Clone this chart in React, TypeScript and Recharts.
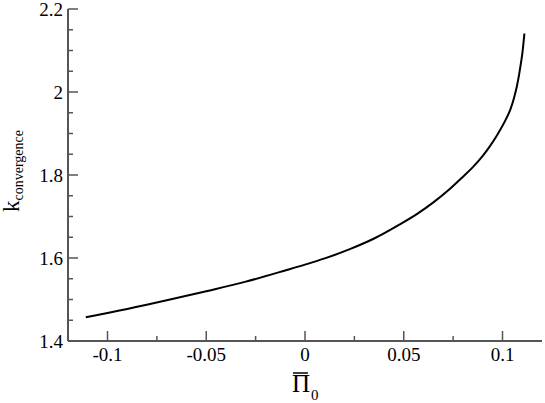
import { LineChart, Line, XAxis, YAxis, Label } from "recharts";

const piValues = [
  -0.111, -0.09, -0.07, -0.05, -0.03, -0.01, 0, 0.01, 0.023, 0.035, 0.048,
  0.057, 0.065, 0.073, 0.08, 0.085, 0.09, 0.0933, 0.097, 0.1017, 0.104,
  0.1059, 0.1072, 0.1084, 0.1095, 0.1101, 0.1106, 0.1111,
];
const kValues = [
  1.457, 1.477, 1.498, 1.52, 1.543, 1.57, 1.584, 1.599, 1.622, 1.647, 1.681,
  1.707, 1.734, 1.765, 1.796, 1.819, 1.846, 1.867, 1.894, 1.934, 1.958, 1.987,
  2.012, 2.042, 2.075, 2.095, 2.117, 2.141,
];

const xTicks = [-0.1, -0.075, -0.05, -0.025, 0, 0.025, 0.05, 0.075, 0.1];
const xMajor = [-0.1, -0.05, 0, 0.05, 0.1];
const xTickLabels = ["-0.1", "-0.05", "0", "0.05", "0.1"];
const yTicks = [
  1.4, 1.45, 1.5, 1.55, 1.6, 1.65, 1.7, 1.75, 1.8, 1.85, 1.9, 1.95, 2, 2.05,
  2.1, 2.15, 2.2,
];
const yMajor = [1.4, 1.6, 1.8, 2, 2.2];
const yTickLabels = ["1.4", "1.6", "1.8", "2", "2.2"];

const data = piValues.map((pi, i) => ({ pi, k: kValues[i] }));

const FONT = '"Liberation Serif", Tinos, "Times New Roman", Times, "DejaVu Serif", serif';
const AXIS = "#555";
const MAJOR = 10;
const MINOR = 5;
const txt = { fontFamily: FONT };

const isMajor = (list: number[], v: number) =>
  list.findIndex((m) => Math.abs(m - v) < 1e-6);

function BottomTick(props: any) {
  const { x, y, payload } = props;
  const idx = isMajor(xMajor, payload.value);
  const len = idx >= 0 ? MAJOR : MINOR;
  return (
    <g>
      <line x1={x} x2={x} y1={y} y2={y - len} stroke={AXIS} strokeWidth={1.5} />
      {idx >= 0 && (
        <text x={x} y={y + 20} textAnchor="middle" style={txt} fontSize={19} fill="#000">
          {xTickLabels[idx]}
        </text>
      )}
    </g>
  );
}

function TopTick(props: any) {
  const { x, y, payload } = props;
  const len = isMajor(xMajor, payload.value) >= 0 ? MAJOR : MINOR;
  return <line x1={x} x2={x} y1={y} y2={y + len} stroke={AXIS} strokeWidth={1.5} />;
}

function LeftTick(props: any) {
  const { x, y, payload } = props;
  const idx = isMajor(yMajor, payload.value);
  const len = idx >= 0 ? MAJOR : MINOR;
  return (
    <g>
      <line x1={x} x2={x + len} y1={y} y2={y} stroke={AXIS} strokeWidth={1.5} />
      {idx >= 0 && (
        <text x={x - 5} y={y + 6.5} textAnchor="end" style={txt} fontSize={19} fill="#000">
          {yTickLabels[idx]}
        </text>
      )}
    </g>
  );
}

function RightTick(props: any) {
  const { x, y, payload } = props;
  const len = isMajor(yMajor, payload.value) >= 0 ? MAJOR : MINOR;
  return <line x1={x} x2={x - len} y1={y} y2={y} stroke={AXIS} strokeWidth={1.5} />;
}

function XLabel(props: any) {
  const { viewBox } = props;
  const cx = viewBox.x + viewBox.width / 2;
  const base = 392;
  return (
    <g>
      <text x={cx - 4} y={base} textAnchor="middle" style={txt} fontSize={25} fill="#000">
        Π
      </text>
      <line x1={cx - 12} x2={cx + 3} y1={373} y2={373} stroke="#000" strokeWidth={1.5} />
      <text x={cx + 6} y={base + 8} style={txt} fontSize={15} fill="#000">
        0
      </text>
    </g>
  );
}

function YLabel(props: any) {
  const { viewBox } = props;
  const cy = viewBox.y + viewBox.height / 2 - 4;
  return (
    <text
      x={19}
      y={cy}
      transform={`rotate(-90, 19, ${cy})`}
      textAnchor="middle"
      style={txt}
      fill="#000"
    >
      <tspan fontSize={23}>k</tspan>
      <tspan fontSize={14} dy={4}>
        convergence
      </tspan>
    </text>
  );
}

export default function App() {
  return (
    <div style={{ width: 545, height: 403 }}>
      <style>{"body{margin:0}"}</style>
      <LineChart
        width={545}
        height={403}
        data={data}
        margin={{ top: 9, right: 3, bottom: 0, left: 0 }}
      >
        <XAxis
          dataKey="pi"
          type="number"
          domain={[-0.12, 0.12]}
          allowDataOverflow
          ticks={xTicks}
          interval={0}
          tickSize={0}
          tickMargin={0}
          tick={<BottomTick />}
          height={62}
          axisLine={{ stroke: AXIS, strokeWidth: 2 }}
        >
          <Label content={<XLabel />} />
        </XAxis>
        <XAxis
          xAxisId="top"
          orientation="top"
          dataKey="pi"
          type="number"
          domain={[-0.12, 0.12]}
          allowDataOverflow
          ticks={xTicks}
          interval={0}
          tickSize={0}
          tickMargin={0}
          tick={<TopTick />}
          height={0}
          axisLine={{ stroke: AXIS, strokeWidth: 2 }}
        />
        <YAxis
          type="number"
          domain={[1.4, 2.2]}
          allowDataOverflow
          ticks={yTicks}
          interval={0}
          tickSize={0}
          tickMargin={0}
          tick={<LeftTick />}
          width={68}
          axisLine={{ stroke: AXIS, strokeWidth: 2 }}
        >
          <Label content={<YLabel />} />
        </YAxis>
        <YAxis
          yAxisId="right"
          orientation="right"
          type="number"
          domain={[1.4, 2.2]}
          allowDataOverflow
          ticks={yTicks}
          interval={0}
          tickSize={0}
          tickMargin={0}
          tick={<RightTick />}
          width={0}
          axisLine={{ stroke: AXIS, strokeWidth: 2 }}
        />
        <Line
          dataKey="k"
          type="monotone"
          stroke="#000"
          strokeWidth={2}
          dot={false}
          isAnimationActive={false}
        />
      </LineChart>
    </div>
  );
}
